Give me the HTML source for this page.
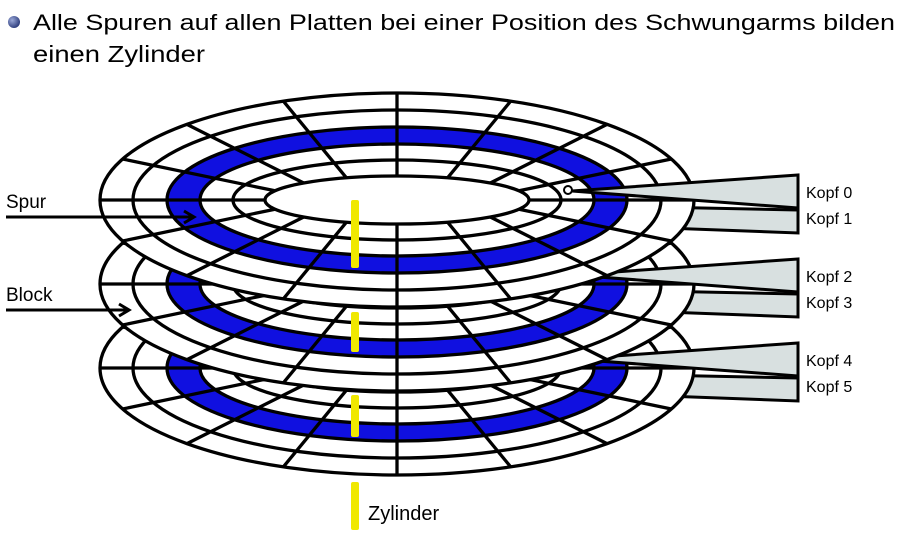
<!DOCTYPE html>
<html><head><meta charset="utf-8"><style>
html,body{margin:0;padding:0;background:#fff;}
svg{display:block;}
text{font-family:"Liberation Sans",sans-serif;}
</style></head><body>
<svg width="906" height="534" viewBox="0 0 906 534" xmlns="http://www.w3.org/2000/svg">
<defs>
<radialGradient id="bg" cx="0.35" cy="0.35" r="0.7"><stop offset="0" stop-color="#9aa8d8"/><stop offset="1" stop-color="#2a3a7a"/></radialGradient>
<g id="disk" stroke="#000" stroke-width="3.3">
<ellipse cx="0" cy="0" rx="297" ry="107" fill="#fff"/>
<ellipse cx="0" cy="0" rx="230" ry="73" fill="#1010e0"/>
<ellipse cx="0" cy="0" rx="197" ry="56" fill="#fff"/>
<g fill="none">
<ellipse cx="0" cy="0" rx="264" ry="90"/>
<ellipse cx="0" cy="0" rx="164" ry="40"/>
<ellipse cx="0" cy="0" rx="132" ry="24"/>
<path d="M132 0L297 0M-132 0L-297 0M0 24L0 107M0 -24L0 -107
M122 9.2L274.4 41M122 -9.2L274.4 -41M-122 9.2L-274.4 41M-122 -9.2L-274.4 -41
M93.3 17L210 75.6M93.3 -17L210 -75.6M-93.3 17L-210 75.6M-93.3 -17L-210 -75.6
M50.6 22.2L113.7 98.9M50.6 -22.2L113.7 -98.9M-50.6 22.2L-113.7 98.9M-50.6 -22.2L-113.7 -98.9"/>
</g>
</g>
<polygon id="lw" points="560,205 798,210 798,233 560,224" fill="#d8e0e0" stroke="#000" stroke-width="3"/>
<polygon id="uw" points="572,191 798,175 798,208" fill="#d8e0e0" stroke="#000" stroke-width="3"/>
</defs>

<circle cx="14" cy="22" r="6" fill="url(#bg)"/>
<text x="33" y="30" font-size="22" textLength="862" lengthAdjust="spacingAndGlyphs">Alle Spuren auf allen Platten bei einer Position des Schwungarms bilden</text>
<text x="33" y="62" font-size="23" textLength="172" lengthAdjust="spacingAndGlyphs">einen Zylinder</text>

<use href="#lw" transform="translate(0,168)"/>
<use href="#disk" transform="translate(397,368)"/>
<use href="#uw" transform="translate(0,168)"/>
<use href="#lw" transform="translate(0,84)"/>
<use href="#disk" transform="translate(397,284)"/>
<use href="#uw" transform="translate(0,84)"/>
<use href="#lw"/>
<use href="#disk" transform="translate(397,200)"/>
<use href="#uw"/>
<circle cx="568" cy="190" r="4" fill="#fff" stroke="#000" stroke-width="2"/>

<g fill="#f0e800">
<rect x="351" y="200" width="8" height="68" rx="2"/>
<rect x="351" y="312" width="8" height="40" rx="2"/>
<rect x="351" y="395" width="8" height="42" rx="2"/>
<rect x="351" y="482" width="8" height="48" rx="2"/>
</g>

<g font-size="16">
<text x="806" y="198">Kopf 0</text>
<text x="806" y="224">Kopf 1</text>
<text x="806" y="282">Kopf 2</text>
<text x="806" y="308">Kopf 3</text>
<text x="806" y="366">Kopf 4</text>
<text x="806" y="392">Kopf 5</text>
</g>

<text x="6" y="208" font-size="19">Spur</text>
<text x="6" y="301" font-size="19">Block</text>
<g stroke="#000" stroke-width="3" fill="none">
<path d="M6 217H193M184 211L194 217L184 223"/>
<path d="M6 310H128M119 304L129 310L119 316"/>
</g>
<text x="368" y="520" font-size="20">Zylinder</text>
</svg>
</body></html>
